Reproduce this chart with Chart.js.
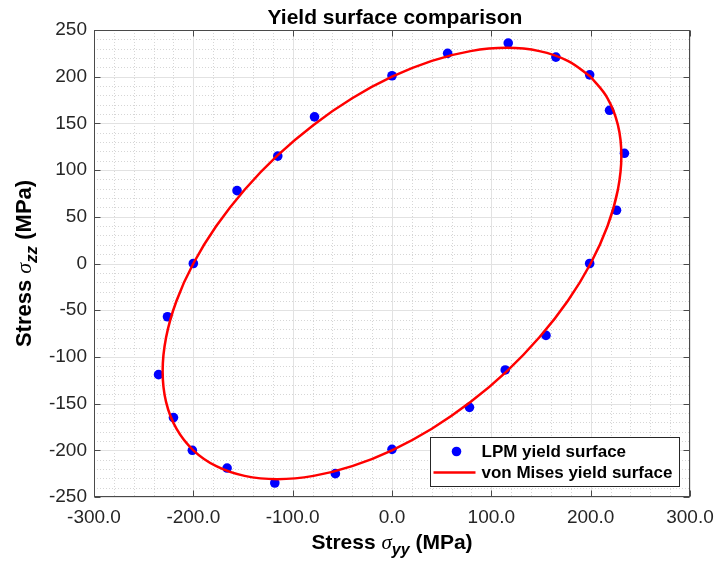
<!DOCTYPE html>
<html>
<head>
<meta charset="utf-8">
<title>Yield surface comparison</title>
<script src="https://cdn.jsdelivr.net/npm/chart.js@4.4.1/dist/chart.umd.min.js"></script>
<style>
  html, body { margin: 0; padding: 0; background: #fff; }
  #wrap { width: 714px; height: 565px; }
</style>
</head>
<body>
<div id="wrap"><canvas id="yieldChart" width="714" height="565"></canvas></div>
<script>
const titleText = 'Yield surface comparison';
const lpmLabel = 'LPM yield surface';
const misesLabel = 'von Mises yield surface';

// LPM points (MPa)
const lpmYY = [0, 56, 117, 165, 199, 219, 234, 226, 199, 155, 114, 78, 0, -57, -118, -166, -201, -220, -235, -226, -200, -156, -115, -78];
const lpmZZ = [201, 225, 236, 221, 202, 164, 118, 57, 0, -77, -114, -154, -199, -225, -235, -219, -200, -165, -119, -57, 0, 78, 115, 157];

// von Mises curve (MPa)
const misesYY = [200, 176.9, 148.4, 115.5, 79.0, 40.1, 0, -40.1, -79.0, -115.5, -148.4, -176.9, -200, -217.0, -227.4, -230.9, -227.4, -217.0, -200, -176.9, -148.4, -115.5, -79.0, -40.1, 0, 40.1, 79.0, 115.5, 148.4, 176.9, 200, 217.0, 227.4, 230.9, 227.4, 217.0, 200];
const misesZZ = [200, 217.0, 227.4, 230.9, 227.4, 217.0, 200, 176.9, 148.4, 115.5, 79.0, 40.1, 0, -40.1, -79.0, -115.5, -148.4, -176.9, -200, -217.0, -227.4, -230.9, -227.4, -217.0, -200, -176.9, -148.4, -115.5, -79.0, -40.1, 0, 40.1, 79.0, 115.5, 148.4, 176.9, 200];

const xTicks = [-300, -200, -100, 0, 100, 200, 300];
const yTicks = [-250, -200, -150, -100, -50, 0, 50, 100, 150, 200, 250];
const xMinorStep = 20;
const yMinorStep = 10;

const sans = '"Liberation Sans", Arial, Helvetica, sans-serif';
const inkColor = '#262626';

function drawLine(ctx, x1, y1, x2, y2) {
    ctx.beginPath();
    ctx.moveTo(x1, y1);
    ctx.lineTo(x2, y2);
    ctx.stroke();
}

// draws "Stress σ_sub (MPa)" centred on 0,0 in current transform
function drawAxisTitle(ctx, sub, size) {
    const parts = [
        { t: 'Stress ', f: 'bold ' + size + 'px ' + sans, dy: 0 },
        { t: '\u03c3', f: 'italic ' + size + 'px "Liberation Serif", "DejaVu Serif", serif', dy: 0 },
        { t: sub, f: 'bold italic ' + Math.round(size * 0.75) + 'px ' + sans, dy: 6 },
        { t: ' (MPa)', f: 'bold ' + size + 'px ' + sans, dy: 0 }
    ];
    let total = 0;
    parts.forEach(p => { ctx.font = p.f; p.w = ctx.measureText(p.t).width; total += p.w; });
    let x = -total / 2;
    ctx.fillStyle = '#000';
    ctx.textBaseline = 'alphabetic';
    ctx.textAlign = 'left';
    parts.forEach(p => {
        ctx.font = p.f;
        ctx.fillText(p.t, x, p.dy);
        x += p.w;
    });
}

const matlabAxes = {
    id: 'matlabAxes',
    beforeDatasetsDraw(chart) {
        const { ctx, chartArea: a, scales: { x, y } } = chart;
        ctx.save();
        ctx.lineWidth = 1;
        // minor grid (dotted)
        ctx.strokeStyle = '#d6d6d6';
        ctx.setLineDash([1, 2]);
        for (let v = xTicks[0]; v <= xTicks[xTicks.length - 1]; v += xMinorStep) {
            if (xTicks.includes(v)) continue;
            const px = Math.round(x.getPixelForValue(v)) + 0.5;
            drawLine(ctx, px, a.top, px, a.bottom);
        }
        for (let v = yTicks[0]; v <= yTicks[yTicks.length - 1]; v += yMinorStep) {
            if (yTicks.includes(v)) continue;
            const py = Math.round(y.getPixelForValue(v)) + 0.5;
            drawLine(ctx, a.left, py, a.right, py);
        }
        // major grid
        ctx.setLineDash([]);
        ctx.strokeStyle = '#e2e2e2';
        xTicks.forEach(v => {
            const px = Math.round(x.getPixelForValue(v)) + 0.5;
            drawLine(ctx, px, a.top, px, a.bottom);
        });
        yTicks.forEach(v => {
            const py = Math.round(y.getPixelForValue(v)) + 0.5;
            drawLine(ctx, a.left, py, a.right, py);
        });
        ctx.restore();
    },
    afterDatasetsDraw(chart) {
        const { ctx, chartArea: a, scales: { x, y } } = chart;
        ctx.save();
        // box and inward ticks
        ctx.strokeStyle = '#4a4a4a';
        ctx.lineWidth = 1;
        const L = Math.round(a.left) + 0.5, R = Math.round(a.right) - 0.5;
        const T = Math.round(a.top) + 0.5, B = Math.round(a.bottom) - 0.5;
        ctx.strokeRect(L, T, R - L, B - T);
        xTicks.forEach(v => {
            const px = Math.round(x.getPixelForValue(v)) + 0.5;
            drawLine(ctx, px, B, px, B - 6);
            drawLine(ctx, px, T, px, T + 6);
        });
        yTicks.forEach(v => {
            const py = Math.round(y.getPixelForValue(v)) + 0.5;
            drawLine(ctx, L, py, L + 6, py);
            drawLine(ctx, R, py, R - 6, py);
        });

        // legend box, bottom right inside the axes
        const lpm = chart.data.datasets[0], mises = chart.data.datasets[1];
        const bw = 249, bh = 49;
        const bx = Math.round(a.right - 11 - bw) + 0.5;
        const by = Math.round(a.bottom - 11 - bh) + 0.5;
        ctx.fillStyle = '#fff';
        ctx.fillRect(bx, by, bw, bh);
        ctx.strokeStyle = inkColor;
        ctx.strokeRect(bx, by, bw, bh);
        const row1 = by + 14, row2 = by + 35;
        ctx.fillStyle = lpm.backgroundColor;
        ctx.beginPath();
        ctx.arc(bx + 26, row1, 4.8, 0, Math.PI * 2);
        ctx.fill();
        ctx.strokeStyle = mises.borderColor;
        ctx.lineWidth = 2.5;
        drawLine(ctx, bx + 3, row2, bx + 45, row2);
        ctx.fillStyle = '#000';
        ctx.font = 'bold 17px ' + sans;
        ctx.textAlign = 'left';
        ctx.textBaseline = 'middle';
        ctx.fillText(lpm.label, bx + 51, row1 + 1);
        ctx.fillText(mises.label, bx + 51, row2 + 1);
        ctx.restore();
    },
    afterDraw(chart) {
        const { ctx, chartArea: a } = chart;
        ctx.save();
        ctx.fillStyle = '#000';
        ctx.font = 'bold 21px ' + sans;
        ctx.textAlign = 'center';
        ctx.textBaseline = 'alphabetic';
        ctx.fillText(titleText, (a.left + a.right) / 2 + 3, 24);

        ctx.save();
        ctx.translate((a.left + a.right) / 2, 549);
        drawAxisTitle(ctx, 'yy', 21);
        ctx.restore();

        ctx.save();
        ctx.translate(31, (a.top + a.bottom) / 2);
        ctx.rotate(-Math.PI / 2);
        drawAxisTitle(ctx, 'zz', 22);
        ctx.restore();
        ctx.restore();
    }
};

const lpmPoints = lpmYY.map((v, i) => ({ x: v, y: lpmZZ[i] }));
const misesPoints = misesYY.map((v, i) => ({ x: v, y: misesZZ[i] }));

new Chart(document.getElementById('yieldChart').getContext('2d'), {
    type: 'scatter',
    data: {
        datasets: [
            {
                label: lpmLabel,
                data: lpmPoints,
                backgroundColor: '#0000ff',
                borderColor: '#0000ff',
                borderWidth: 0,
                pointRadius: 4.8,
                order: 2
            },
            {
                label: misesLabel,
                data: misesPoints,
                showLine: true,
                borderColor: '#ff0000',
                backgroundColor: '#ff0000',
                borderWidth: 2.5,
                pointRadius: 0,
                tension: 0.4,
                order: 1
            }
        ]
    },
    options: {
        responsive: false,
        animation: false,
        events: [],
        layout: {
            padding: { top: 30, right: 24, left: 0, bottom: 0 }
        },
        plugins: {
            legend: { display: false },
            title: { display: false },
            tooltip: { enabled: false }
        },
        scales: {
            x: {
                type: 'linear',
                min: xTicks[0],
                max: xTicks[xTicks.length - 1],
                afterBuildTicks: scale => { scale.ticks = xTicks.map(v => ({ value: v })); },
                afterFit: scale => {
                    scale.height = 68;
                    scale.paddingLeft = 0;
                    scale.paddingRight = 0;
                },
                grid: { display: false, drawTicks: false },
                border: { display: false },
                ticks: {
                    padding: 9,
                    color: inkColor,
                    font: { family: sans, size: 19 },
                    maxRotation: 0,
                    callback: v => v.toFixed(1)
                }
            },
            y: {
                type: 'linear',
                min: yTicks[0],
                max: yTicks[yTicks.length - 1],
                afterBuildTicks: scale => { scale.ticks = yTicks.map(v => ({ value: v })); },
                afterFit: scale => {
                    scale.width = 94;
                    scale.paddingTop = 0;
                    scale.paddingBottom = 0;
                },
                grid: { display: false, drawTicks: false },
                border: { display: false },
                ticks: {
                    padding: 7,
                    color: inkColor,
                    font: { family: sans, size: 19 },
                    callback: v => String(v)
                }
            }
        }
    },
    plugins: [matlabAxes]
});
</script>
</body>
</html>
